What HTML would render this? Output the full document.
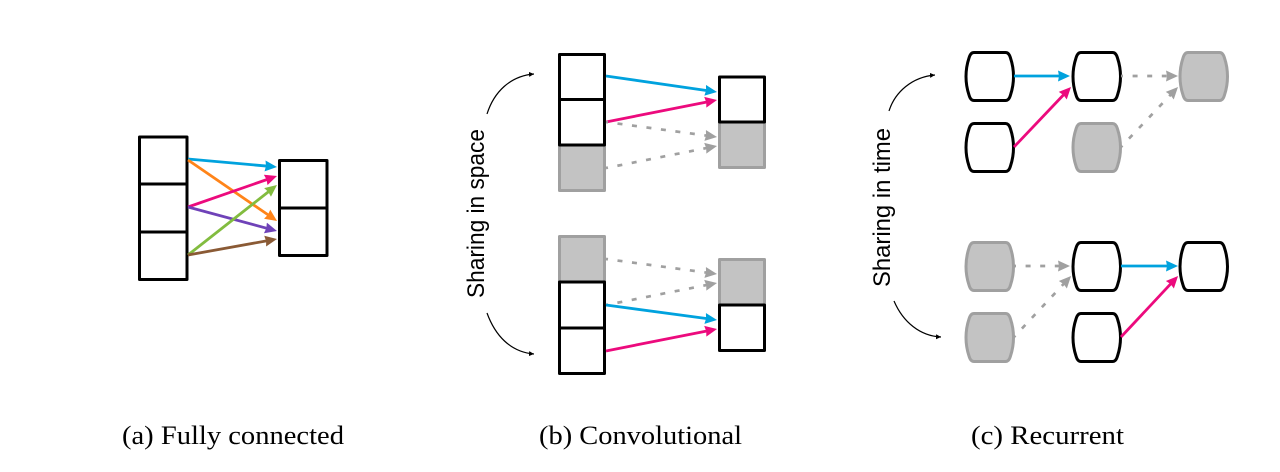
<!DOCTYPE html>
<html>
<head>
<meta charset="utf-8">
<style>
html,body{margin:0;padding:0;background:#fff;width:1280px;height:472px;overflow:hidden}
svg{display:block}
.b{fill:#fff;stroke:#000;stroke-width:3;stroke-linejoin:round}
.g{fill:#c3c3c3;stroke:#a0a0a0;stroke-width:3;stroke-linejoin:round}
.l{fill:none;stroke-width:2.8}
.d{fill:none;stroke:#a0a0a0;stroke-width:2.7;stroke-dasharray:5 9.6;stroke-dashoffset:3}
.s{font-family:"Liberation Sans",sans-serif;font-size:24px;fill:#000}
.c{font-family:"Liberation Serif",serif;font-size:26px;fill:#000}
.k{fill:none;stroke:#000;stroke-width:1.2}
</style>
</head>
<body>
<svg width="1280" height="472" viewBox="0 0 1280 472" xmlns="http://www.w3.org/2000/svg">
<defs>
<marker id="mb" markerUnits="userSpaceOnUse" markerWidth="14" markerHeight="12" refX="3" refY="6" orient="auto"><path d="M0,0.5 L12,6 L0,11.5 L1,6 Z" fill="#00a2de"/></marker>
<marker id="mm" markerUnits="userSpaceOnUse" markerWidth="14" markerHeight="12" refX="3" refY="6" orient="auto"><path d="M0,0.5 L12,6 L0,11.5 L1,6 Z" fill="#ec0a7d"/></marker>
<marker id="mo" markerUnits="userSpaceOnUse" markerWidth="14" markerHeight="12" refX="3" refY="6" orient="auto"><path d="M0,0.5 L12,6 L0,11.5 L1,6 Z" fill="#ff8419"/></marker>
<marker id="mp" markerUnits="userSpaceOnUse" markerWidth="14" markerHeight="12" refX="3" refY="6" orient="auto"><path d="M0,0.5 L12,6 L0,11.5 L1,6 Z" fill="#6f42b8"/></marker>
<marker id="mg" markerUnits="userSpaceOnUse" markerWidth="14" markerHeight="12" refX="3" refY="6" orient="auto"><path d="M0,0.5 L12,6 L0,11.5 L1,6 Z" fill="#82bc3f"/></marker>
<marker id="mn" markerUnits="userSpaceOnUse" markerWidth="14" markerHeight="12" refX="3" refY="6" orient="auto"><path d="M0,0.5 L12,6 L0,11.5 L1,6 Z" fill="#8a5a35"/></marker>
<marker id="mx" markerUnits="userSpaceOnUse" markerWidth="14" markerHeight="12" refX="3" refY="6" orient="auto"><path d="M0,0.5 L12,6 L0,11.5 L1,6 Z" fill="#a0a0a0"/></marker>
<marker id="mk" markerUnits="userSpaceOnUse" markerWidth="6" markerHeight="6" refX="5" refY="3" orient="auto"><path d="M0,0.5 L5,3 L0,5.5 Z" fill="#000"/></marker>
<path id="n" d="M974,52.5 H1005.5 Q1009,52.5 1010.5,58 Q1013.5,67 1013.5,76.5 Q1013.5,86 1010.5,95 Q1009,100.5 1005.5,100.5 H974 Q970.5,100.5 969,95 Q966,86 966,76.5 Q966,67 969,58 Q970.5,52.5 974,52.5 Z"/>
</defs>

<!-- (a) -->
<rect class="b" x="139.5" y="137" width="47.5" height="47"/>
<rect class="b" x="139.5" y="184" width="47.5" height="48"/>
<rect class="b" x="139.5" y="232" width="47.5" height="47.5"/>
<rect class="b" x="279.5" y="160.5" width="47.5" height="47.5"/>
<rect class="b" x="279.5" y="208" width="47.5" height="47.5"/>
<line class="l" x1="188" y1="159" x2="268" y2="166.2" stroke="#00a2de" marker-end="url(#mb)"/>
<line class="l" x1="188" y1="160" x2="269.6" y2="215.9" stroke="#ff8419" marker-end="url(#mo)"/>
<line class="l" x1="188" y1="207" x2="268.5" y2="179" stroke="#ec0a7d" marker-end="url(#mm)"/>
<line class="l" x1="188" y1="207" x2="268.3" y2="228.7" stroke="#6f42b8" marker-end="url(#mp)"/>
<line class="l" x1="188" y1="255" x2="269.9" y2="190.6" stroke="#82bc3f" marker-end="url(#mg)"/>
<line class="l" x1="188" y1="255" x2="268.1" y2="240.6" stroke="#8a5a35" marker-end="url(#mn)"/>

<!-- (b) top -->
<rect class="g" x="559.5" y="145" width="45" height="45.5"/>
<rect class="b" x="559.5" y="54.5" width="45" height="45"/>
<rect class="b" x="559.5" y="99.5" width="45" height="45.5"/>
<rect class="g" x="719.5" y="122" width="45" height="45.5"/>
<rect class="b" x="719.5" y="77" width="45" height="45"/>
<line class="l" x1="606" y1="76" x2="708.1" y2="90.7" stroke="#00a2de" marker-end="url(#mb)"/>
<line class="l" x1="606" y1="122" x2="708.2" y2="101.7" stroke="#ec0a7d" marker-end="url(#mm)"/>
<line class="d" x1="606" y1="122" x2="708.1" y2="135.8" marker-end="url(#mx)"/>
<line class="d" x1="606" y1="168" x2="708.2" y2="147.7" marker-end="url(#mx)"/>

<!-- (b) bottom -->
<rect class="g" x="559.5" y="236.5" width="45" height="45.5"/>
<rect class="b" x="559.5" y="282" width="45" height="46"/>
<rect class="b" x="559.5" y="328" width="45" height="45.5"/>
<rect class="g" x="719.5" y="259.5" width="45" height="45.5"/>
<rect class="b" x="719.5" y="305" width="45" height="45.5"/>
<line class="d" x1="606" y1="259" x2="708.1" y2="272.8" marker-end="url(#mx)"/>
<line class="d" x1="606" y1="305" x2="708.2" y2="284.7" marker-end="url(#mx)"/>
<line class="l" x1="606" y1="305" x2="708.1" y2="318.8" stroke="#00a2de" marker-end="url(#mb)"/>
<line class="l" x1="606" y1="351" x2="708.2" y2="330.7" stroke="#ec0a7d" marker-end="url(#mm)"/>

<text class="s" transform="translate(484,298) rotate(-90)" textLength="169" lengthAdjust="spacingAndGlyphs">Sharing in space</text>
<path class="k" d="M487,114 C494,92 510,76 534,74" marker-end="url(#mk)"/>
<path class="k" d="M487,313 C495,335 510,352 534,354" marker-end="url(#mk)"/>

<!-- (c) top -->
<use href="#n" class="b"/>
<use href="#n" class="b" x="107"/>
<use href="#n" class="g" x="214"/>
<use href="#n" class="b" y="71"/>
<use href="#n" class="g" x="107" y="71"/>
<line class="l" x1="1014" y1="76" x2="1061" y2="76" stroke="#00a2de" marker-end="url(#mb)"/>
<line class="l" x1="1014" y1="147" x2="1064.8" y2="93.5" stroke="#ec0a7d" marker-end="url(#mm)"/>
<line class="d" x1="1121" y1="76" x2="1169" y2="76" marker-end="url(#mx)"/>
<line class="d" x1="1121" y1="147" x2="1171.8" y2="93.5" marker-end="url(#mx)"/>

<!-- (c) bottom -->
<use href="#n" class="g" y="190"/>
<use href="#n" class="b" x="107" y="190"/>
<use href="#n" class="b" x="214" y="190"/>
<use href="#n" class="g" y="261"/>
<use href="#n" class="b" x="107" y="261"/>
<line class="d" x1="1014" y1="266" x2="1061" y2="266" marker-end="url(#mx)"/>
<line class="d" x1="1014" y1="337" x2="1064.9" y2="282.6" marker-end="url(#mx)"/>
<line class="l" x1="1121" y1="266" x2="1169" y2="266" stroke="#00a2de" marker-end="url(#mb)"/>
<line class="l" x1="1121" y1="337" x2="1171.9" y2="282.6" stroke="#ec0a7d" marker-end="url(#mm)"/>

<text class="s" transform="translate(890,287) rotate(-90)" textLength="159" lengthAdjust="spacingAndGlyphs">Sharing in time</text>
<path class="k" d="M889,111 C895,92 912,77 935,75" marker-end="url(#mk)"/>
<path class="k" d="M894,301 C903,322 920,336 941,337" marker-end="url(#mk)"/>

<!-- captions -->
<text class="c" x="122" y="444" textLength="222" lengthAdjust="spacingAndGlyphs">(a) Fully connected</text>
<text class="c" x="539" y="444" textLength="203" lengthAdjust="spacingAndGlyphs">(b) Convolutional</text>
<text class="c" x="971" y="444" textLength="153" lengthAdjust="spacingAndGlyphs">(c) Recurrent</text>
</svg>
</body>
</html>
